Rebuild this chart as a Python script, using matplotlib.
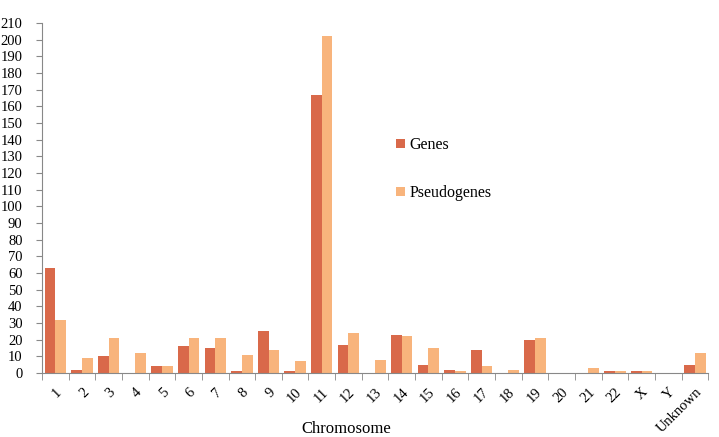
import numpy as np
import matplotlib.pyplot as plt

chromosomes = ['1', '2', '3', '4', '5', '6', '7', '8', '9', '10', '11', '12', '13',
               '14', '15', '16', '17', '18', '19', '20', '21', '22', 'X', 'Y', 'Unknown']
genes = [63, 2, 10, 0, 4, 16, 15, 1, 25, 1, 167, 17, 0,
         23, 5, 2, 14, 0, 20, 0, 0, 1, 1, 0, 5]
pseudogenes = [32, 9, 21, 12, 4, 21, 21, 11, 14, 7, 202, 24, 8,
               22, 15, 1, 4, 2, 21, 0, 3, 1, 1, 0, 12]

plt.rcParams['font.family'] = ['Liberation Serif', 'DejaVu Serif']

fig = plt.figure(figsize=(7.19, 4.37), dpi=100)
ax = fig.add_axes([0.0584, 0.1465, 0.9266, 0.8005])

x = np.arange(len(chromosomes))
w = 0.4
ax.bar(x - w / 2, genes, w, color='#D9694A', label='Genes')
ax.bar(x + w / 2, pseudogenes, w, color='#F8B47C', label='Pseudogenes')

ax.set_xlim(-0.5, len(chromosomes) - 0.5)
ax.set_ylim(0, 210)
ax.set_yticks(range(0, 211, 10))
ax.tick_params(axis='y', labelsize=10.5, length=4, color='#888888', pad=10)

# category labels centred, tick marks between categories
ax.set_xticks(x)
ax.set_xticklabels(chromosomes, rotation=45, ha='right', rotation_mode='anchor', fontsize=10.5)
ax.tick_params(axis='x', length=0, pad=9)
ax.set_xticks(np.arange(-0.5, len(chromosomes), 1), minor=True)
ax.tick_params(axis='x', which='minor', length=5, color='#888888')

for s in ['top', 'right']:
    ax.spines[s].set_visible(False)
for s in ['left', 'bottom']:
    ax.spines[s].set_color('#888888')

ax.set_xlabel('Chromosome', fontsize=12)
ax.xaxis.set_label_coords(0.456, -0.137)

ax.legend(loc='upper left', bbox_to_anchor=(0.51, 0.715), frameon=False, fontsize=11.5,
          handlelength=0.55, handleheight=0.55, handletextpad=0.3, labelspacing=2.0)

fig.savefig('out.png', dpi=100)
